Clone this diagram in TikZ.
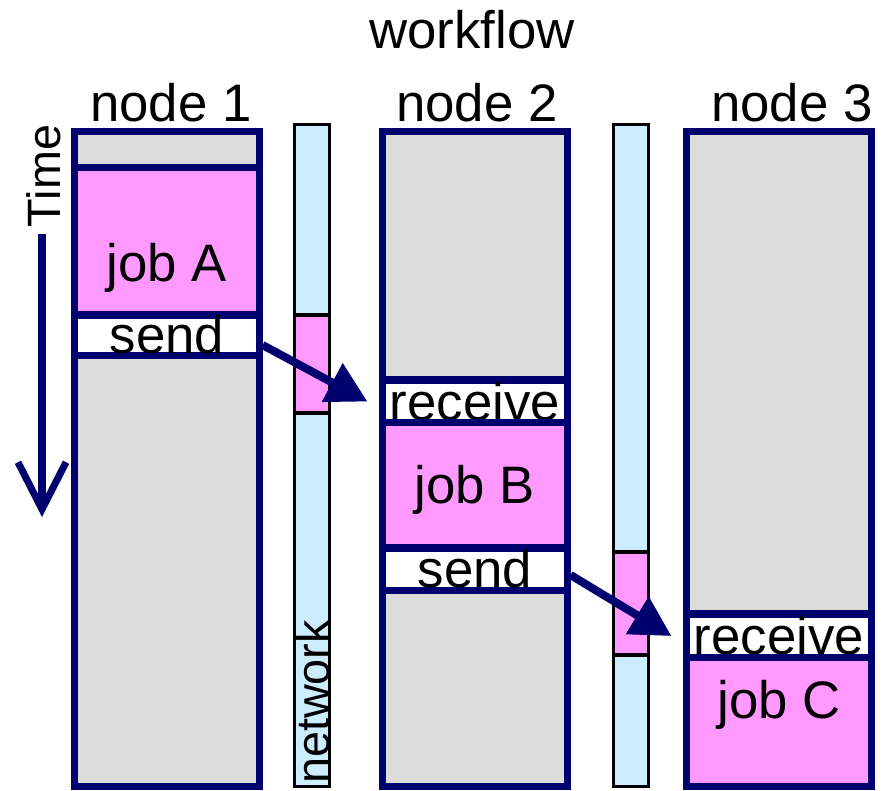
\documentclass[tikz,border=0pt]{standalone}
\usepackage{fontspec}
\setmainfont{Liberation Sans}
\usetikzlibrary{arrows.meta}
\definecolor{navyline}{RGB}{0,0,110}
\definecolor{idlegray}{RGB}{220,220,220}
\definecolor{jobpink}{RGB}{255,153,255}
\definecolor{netblue}{RGB}{204,236,255}
\newcommand{\bigfont}{\fontsize{15}{18}\selectfont}
\newcommand{\smallfont}{\fontsize{13.3}{16}\selectfont}

\begin{document}
\begin{tikzpicture}[x=0.01cm,y=-0.01cm,
  colbox/.style={draw=navyline,fill=idlegray,line width=2pt,minimum width=1.84cm,minimum height=6.55cm,inner sep=0pt},
  jobbox/.style={draw=navyline,fill=jobpink,line width=2pt,minimum width=1.84cm,inner sep=0pt,font=\bigfont},
  iobox/.style={draw=navyline,fill=white,line width=2pt,minimum width=1.84cm,inner sep=0pt,font=\bigfont},
  netbar/.style={draw=black,fill=netblue,line width=0.9pt,minimum width=0.35cm,minimum height=6.62cm,inner sep=0pt},
  msgbox/.style={draw=black,fill=jobpink,line width=0.9pt,minimum width=0.35cm,inner sep=0pt},
  title/.style={font=\bigfont,inner sep=0pt},
  flow/.style={navyline,line width=2.3pt,-{Triangle[length=4mm,width=4.2mm]}}]
        \useasboundingbox (0,0) rectangle (893,790);

        \node[title] (wf) at (472,30) {workflow};
        \node[title] (t1) at (171,103) {node 1};
        \node[title] (t2) at (477,103) {node 2};
        \node[title] (t3) at (792,103) {node 3};

        % time axis
        \node[font=\smallfont,rotate=90,inner sep=0pt] (time) at (44,176) {Time};
        \coordinate (tstart) at (42,234);
        \coordinate (tend) at (42,517);
        \draw[navyline,line width=2pt,-{Straight Barb[length=4.7mm,width=4.8mm]}] (tstart) -- (tend);

        % network
        \node[netbar] (net1) at (312,455.5) {};
        \node[netbar] (net2) at (631,455.5) {};
        \node[msgbox,minimum height=0.98cm] (msgA) at (312,364) {};
        \node[msgbox,minimum height=1.03cm] (msgB) at (631,603.5) {};
        \node[font=\smallfont,rotate=90,inner sep=0pt] (net) at (313,702) {network};

        % node 1
        \node[colbox] (col1) at (167,459) {};
        \node[jobbox,minimum height=1.47cm] (jobA) at (167,241.5) {};
        \node[title] (jobAtext) at (167,268) {job A};
        \node[iobox,minimum height=0.40cm] (sendA) at (167,335) {send};

        % node 2
        \node[colbox] (col2) at (475,459) {};
        \node[iobox,minimum height=0.43cm] (recvB) at (475,401.5) {receive};
        \node[jobbox,minimum height=1.25cm] (jobB) at (475,485.5) {};
        \node[title] (jobBtext) at (475,490) {job B};
        \node[iobox,minimum height=0.42cm] (sendB) at (475,569) {send};

        % node 3
        \node[colbox] (col3) at (779,459) {};
        \node[iobox,minimum height=0.44cm] (recvC) at (779,636) {receive};
        \node[jobbox,minimum height=1.285cm] (jobC) at (779,722.25) {};
        \node[title] (jobCtext) at (779,705) {job C};

        \draw[flow] ([yshift=-1mm]sendA.east) -- ([xshift=-1.2mm]recvB.west);
        \draw[flow] ([yshift=-0.6mm]sendB.east) -- ([xshift=-1.2mm]recvC.west);
\end{tikzpicture}
\end{document}
